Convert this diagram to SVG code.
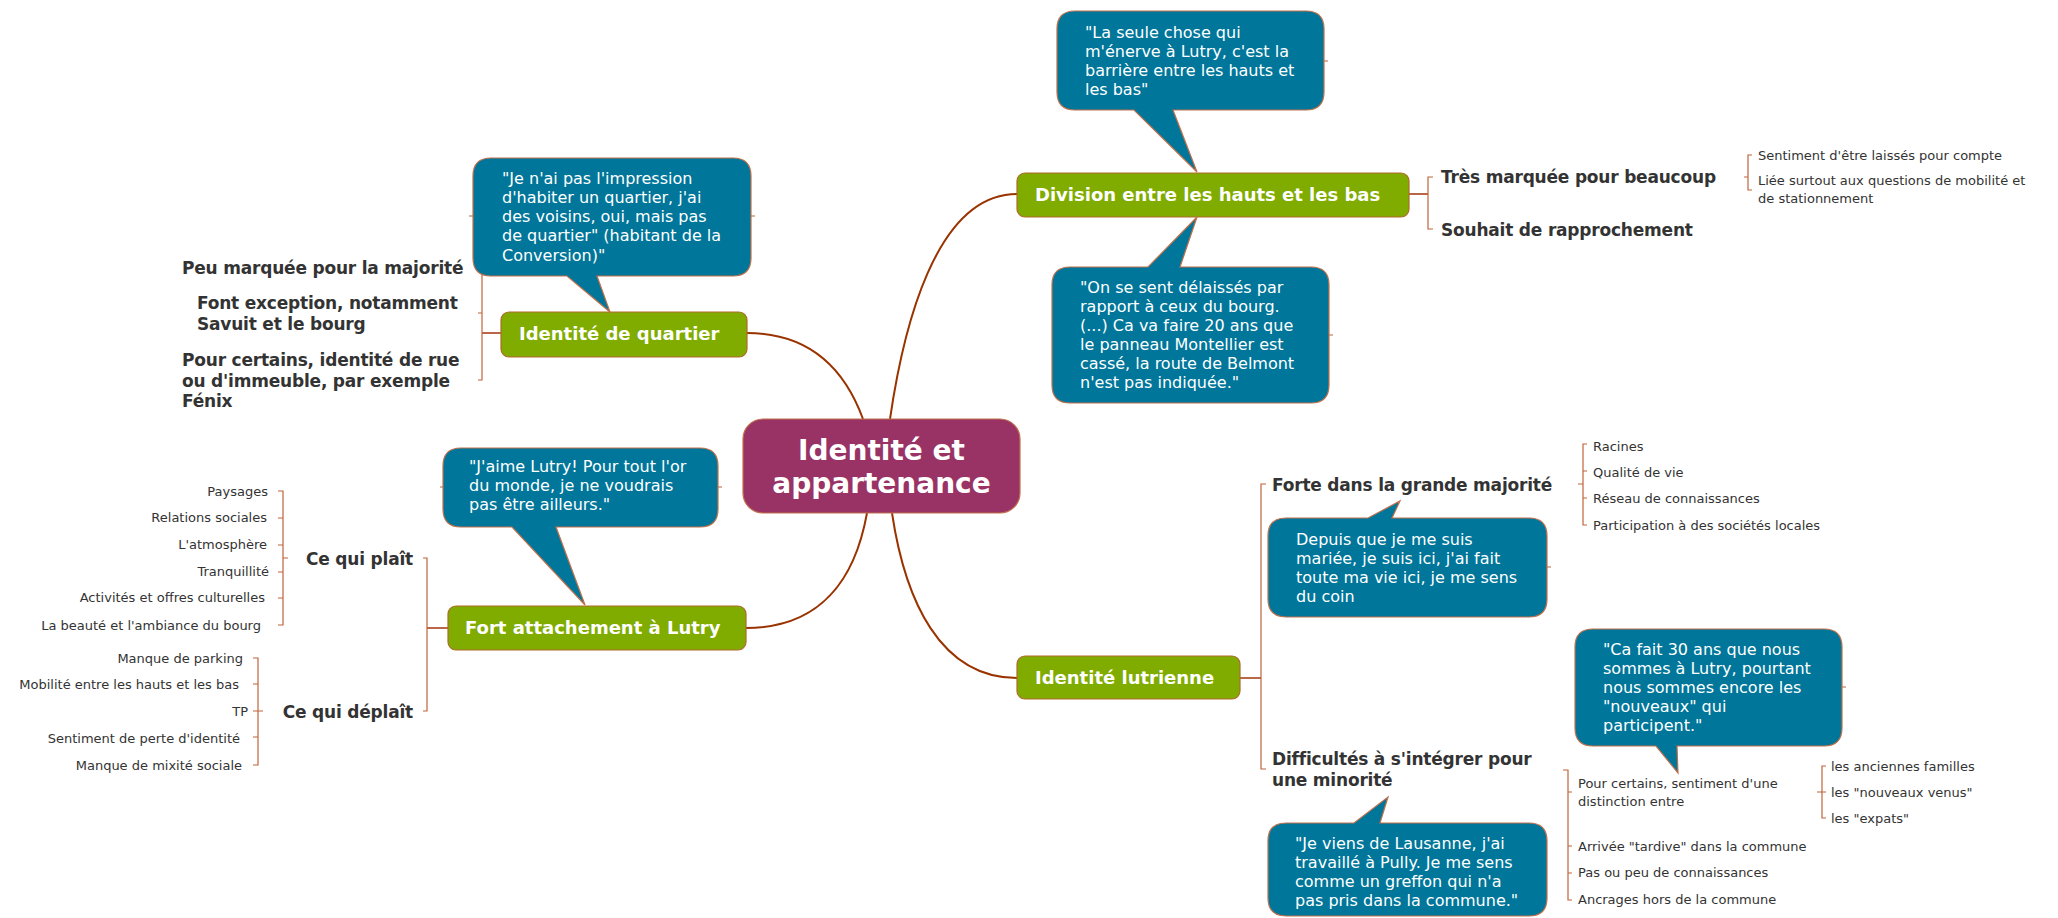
<svg xmlns="http://www.w3.org/2000/svg" width="2058" height="918" viewBox="0 0 2058 918">
<style>
text{font-family:"DejaVu Sans",Verdana,sans-serif;}
.main{fill:#993366;stroke:#C0704A;stroke-width:1.2;}
.branch{fill:#80AC00;stroke:#B06A2A;stroke-width:1.2;}
.callout{fill:#00769A;stroke:#C0704A;stroke-width:1.2;}
.t-main{font-size:28px;font-weight:bold;fill:#ffffff;text-anchor:middle;}
.t-branch{font-size:18px;font-weight:bold;fill:#ffffff;}
.t-quote{font-size:16px;fill:#ffffff;}
.t-sub{font-size:17px;font-weight:bold;fill:#333333;letter-spacing:-0.2px;}
.t-leaf{font-size:13px;fill:#333333;}
.end{text-anchor:end;}
.curve{fill:none;stroke:#993300;stroke-width:2;}
.link{fill:none;stroke:#A8401A;stroke-width:1.6;}
.bracket{fill:none;stroke:#C0653A;stroke-width:1.2;}
</style>

<g id="connectors">
  <path class="curve" d="M890,419 C903,330 935,194 1017,194"/>
  <path class="curve" d="M863,419 C845,370 810,333 747,333"/>
  <path class="curve" d="M867,513 C855,580 820,628 746,628"/>
  <path class="curve" d="M892,513 C905,600 940,678 1017,678"/>
  <path class="link" d="M1409,194 H1428"/>
  <path class="bracket" d="M1433,177 H1428 V229 H1433"/>
  <path class="bracket" d="M1752,155 H1748 V190 H1752 M1744,177 H1748"/>
  <path class="link" d="M501,333 H482"/>
  <path class="bracket" d="M478,267 H482 V380 H478 M478,313 H482"/>
  <path class="link" d="M448,628 H427"/>
  <path class="bracket" d="M423,558 H427 V711 H423"/>
  <path class="bracket" d="M278,491 H283 V625 H278 M278,518 H283 M278,545 H283 M278,572 H283 M278,598 H283 M283,558 H288"/>
  <path class="bracket" d="M253,658 H258 V765 H253 M253,684 H258 M253,711 H263 M253,737 H258"/>
  <path class="link" d="M1240,678 H1261"/>
  <path class="bracket" d="M1266,484 H1261 V769 H1266"/>
  <path class="bracket" d="M1587,444 H1583 V525 H1587 M1583,471 H1587 M1583,498 H1587 M1578,484 H1583"/>
  <path class="bracket" d="M1563,770 H1568 V900 H1572 M1568,792 H1572 M1568,846 H1572 M1568,873 H1572"/>
  <path class="bracket" d="M1826,766 H1822 V818 H1826 M1817,792 H1826"/>
  <path class="bracket" d="M1324,61 H1328 M1329,335 H1333 M469,216 H473 M751,216 H755 M440,487 H443 M718,487 H722 M1547,567 H1551 M1842,687 H1846"/>
</g>

<g id="central">
  <rect class="main" x="743" y="419" width="277" height="94" rx="20"/>
  <text class="t-main" x="881.5" y="460">Identité et</text>
  <text class="t-main" x="881.5" y="493">appartenance</text>
</g>

<g id="division">
  <rect class="branch" x="1017" y="173" width="392" height="44" rx="8"/>
  <text class="t-branch" x="1035" y="201">Division entre les hauts et les bas</text>
</g>
<g id="quote-seule-chose">
  <path class="callout" d="M1075,11 H1306 Q1324,11 1324,29 V92 Q1324,110 1306,110 H1173 L1197,172 L1134,110 H1075 Q1057,110 1057,92 V29 Q1057,11 1075,11 Z"/>
  <text class="t-quote" x="1085" y="38">"La seule chose qui</text>
  <text class="t-quote" x="1085" y="57">m'énerve à Lutry, c'est la</text>
  <text class="t-quote" x="1085" y="76">barrière entre les hauts et</text>
  <text class="t-quote" x="1085" y="95">les bas"</text>
</g>
<g id="quote-delaisses">
  <path class="callout" d="M1070,267 H1148 L1197,217 L1180,267 H1311 Q1329,267 1329,285 V385 Q1329,403 1311,403 H1070 Q1052,403 1052,385 V285 Q1052,267 1070,267 Z"/>
  <text class="t-quote" x="1080" y="293">"On se sent délaissés par</text>
  <text class="t-quote" x="1080" y="312">rapport à ceux du bourg.</text>
  <text class="t-quote" x="1080" y="331">(...) Ca va faire 20 ans que</text>
  <text class="t-quote" x="1080" y="350">le panneau Montellier est</text>
  <text class="t-quote" x="1080" y="369">cassé, la route de Belmont</text>
  <text class="t-quote" x="1080" y="388">n'est pas indiquée."</text>
</g>
<g id="tres-marquee">
  <text class="t-sub" x="1441" y="183">Très marquée pour beaucoup</text>
</g>
<g id="souhait">
  <text class="t-sub" x="1441" y="236">Souhait de rapprochement</text>
</g>
<g id="sentiment-laisses">
  <text class="t-leaf" x="1758" y="160">Sentiment d'être laissés pour compte</text>
</g>
<g id="liee-mobilite">
  <text class="t-leaf" x="1758" y="185">Liée surtout aux questions de mobilité et</text>
  <text class="t-leaf" x="1758" y="203">de stationnement</text>
</g>

<g id="quartier">
  <rect class="branch" x="501" y="312" width="246" height="45" rx="8"/>
  <text class="t-branch" x="519" y="340">Identité de quartier</text>
</g>
<g id="quote-quartier">
  <path class="callout" d="M491,158 H733 Q751,158 751,176 V258 Q751,276 733,276 H597 L610,312 L567,276 H491 Q473,276 473,258 V176 Q473,158 491,158 Z"/>
  <text class="t-quote" x="502" y="184">"Je n'ai pas l'impression</text>
  <text class="t-quote" x="502" y="203">d'habiter un quartier, j'ai</text>
  <text class="t-quote" x="502" y="222">des voisins, oui, mais pas</text>
  <text class="t-quote" x="502" y="241">de quartier" (habitant de la</text>
  <text class="t-quote" x="502" y="261">Conversion)"</text>
</g>
<g id="peu-marquee">
  <text class="t-sub" x="182" y="274">Peu marquée pour la majorité</text>
</g>
<g id="font-exception">
  <text class="t-sub" x="197" y="309">Font exception, notamment</text>
  <text class="t-sub" x="197" y="330">Savuit et le bourg</text>
</g>
<g id="identite-rue">
  <text class="t-sub" x="182" y="366">Pour certains, identité de rue</text>
  <text class="t-sub" x="182" y="387">ou d'immeuble, par exemple</text>
  <text class="t-sub" x="182" y="407">Fénix</text>
</g>

<g id="fort-attachement">
  <rect class="branch" x="448" y="606" width="298" height="44" rx="8"/>
  <text class="t-branch" x="465" y="634">Fort attachement à Lutry</text>
</g>
<g id="quote-aime">
  <path class="callout" d="M461,448 H700 Q718,448 718,466 V509 Q718,527 700,527 H556 L585,605 L512,527 H461 Q443,527 443,509 V466 Q443,448 461,448 Z"/>
  <text class="t-quote" x="469" y="472">"J'aime Lutry! Pour tout l'or</text>
  <text class="t-quote" x="469" y="491">du monde, je ne voudrais</text>
  <text class="t-quote" x="469" y="510">pas être ailleurs."</text>
</g>
<g id="ce-qui-plait">
  <text class="t-sub end" x="413" y="565">Ce qui plaît</text>
</g>
<g id="ce-qui-deplait">
  <text class="t-sub end" x="413" y="718">Ce qui déplaît</text>
</g>
<g id="plait-items">
  <text class="t-leaf end" x="268" y="496">Paysages</text>
  <text class="t-leaf end" x="267" y="522">Relations sociales</text>
  <text class="t-leaf end" x="267" y="549">L'atmosphère</text>
  <text class="t-leaf end" x="269" y="576">Tranquillité</text>
  <text class="t-leaf end" x="265" y="602">Activités et offres culturelles</text>
  <text class="t-leaf end" x="261" y="630">La beauté et l'ambiance du bourg</text>
</g>
<g id="deplait-items">
  <text class="t-leaf end" x="243" y="663">Manque de parking</text>
  <text class="t-leaf end" x="239" y="689">Mobilité entre les hauts et les bas</text>
  <text class="t-leaf end" x="248" y="716">TP</text>
  <text class="t-leaf end" x="240" y="743">Sentiment de perte d'identité</text>
  <text class="t-leaf end" x="242" y="770">Manque de mixité sociale</text>
</g>

<g id="lutrienne">
  <rect class="branch" x="1017" y="656" width="223" height="43" rx="8"/>
  <text class="t-branch" x="1035" y="684">Identité lutrienne</text>
</g>
<g id="forte">
  <text class="t-sub" x="1272" y="491">Forte dans la grande majorité</text>
</g>
<g id="quote-depuis">
  <path class="callout" d="M1286,518 H1368 L1400,501 L1392,518 H1529 Q1547,518 1547,536 V599 Q1547,617 1529,617 H1286 Q1268,617 1268,599 V536 Q1268,518 1286,518 Z"/>
  <text class="t-quote" x="1296" y="545">Depuis que je me suis</text>
  <text class="t-quote" x="1296" y="564">mariée, je suis ici, j'ai fait</text>
  <text class="t-quote" x="1296" y="583">toute ma vie ici, je me sens</text>
  <text class="t-quote" x="1296" y="602">du coin</text>
</g>
<g id="forte-items">
  <text class="t-leaf" x="1593" y="451">Racines</text>
  <text class="t-leaf" x="1593" y="477">Qualité de vie</text>
  <text class="t-leaf" x="1593" y="503">Réseau de connaissances</text>
  <text class="t-leaf" x="1593" y="530">Participation à des sociétés locales</text>
</g>
<g id="difficultes">
  <text class="t-sub" x="1272" y="765">Difficultés à s'intégrer pour</text>
  <text class="t-sub" x="1272" y="786">une minorité</text>
</g>
<g id="quote-lausanne">
  <path class="callout" d="M1286,823 H1354 L1388,797 L1380,823 H1529 Q1547,823 1547,841 V898 Q1547,916 1529,916 H1286 Q1268,916 1268,898 V841 Q1268,823 1286,823 Z"/>
  <text class="t-quote" x="1295" y="849">"Je viens de Lausanne, j'ai</text>
  <text class="t-quote" x="1295" y="868">travaillé à Pully. Je me sens</text>
  <text class="t-quote" x="1295" y="887">comme un greffon qui n'a</text>
  <text class="t-quote" x="1295" y="906">pas pris dans la commune."</text>
</g>
<g id="quote-30-ans">
  <path class="callout" d="M1593,629 H1824 Q1842,629 1842,647 V728 Q1842,746 1824,746 H1677 L1678,773 L1656,746 H1593 Q1575,746 1575,728 V647 Q1575,629 1593,629 Z"/>
  <text class="t-quote" x="1603" y="655">"Ca fait 30 ans que nous</text>
  <text class="t-quote" x="1603" y="674">sommes à Lutry, pourtant</text>
  <text class="t-quote" x="1603" y="693">nous sommes encore les</text>
  <text class="t-quote" x="1603" y="712">"nouveaux" qui</text>
  <text class="t-quote" x="1603" y="731">participent."</text>
</g>
<g id="difficultes-items">
  <text class="t-leaf" x="1578" y="788">Pour certains, sentiment d'une</text>
  <text class="t-leaf" x="1578" y="806">distinction entre</text>
  <text class="t-leaf" x="1578" y="851">Arrivée "tardive" dans la commune</text>
  <text class="t-leaf" x="1578" y="877">Pas ou peu de connaissances</text>
  <text class="t-leaf" x="1578" y="904">Ancrages hors de la commune</text>
</g>
<g id="distinction-items">
  <text class="t-leaf" x="1831" y="771">les anciennes familles</text>
  <text class="t-leaf" x="1831" y="797">les "nouveaux venus"</text>
  <text class="t-leaf" x="1831" y="823">les "expats"</text>
</g>
</svg>
